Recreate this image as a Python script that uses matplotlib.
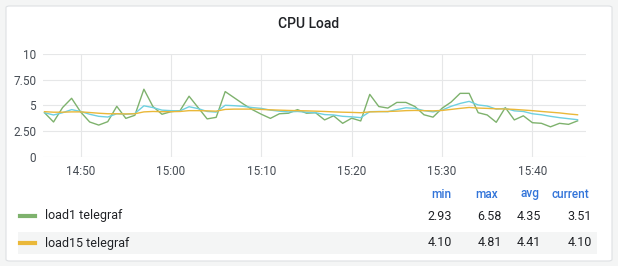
import numpy as np
import matplotlib
matplotlib.use("Agg")
import matplotlib.pyplot as plt
import matplotlib.dates as mdates
from matplotlib.patches import FancyBboxPatch, Rectangle
from matplotlib.lines import Line2D

plt.rcParams['font.family'] = ['Roboto', 'DejaVu Sans']

# one sample per minute, 14:46 .. 15:45
times = np.arange(np.datetime64('2024-01-01T14:46'), np.datetime64('2024-01-01T15:46'),
                  np.timedelta64(1, 'm'))

load1 = [4.30, 3.40, 4.80, 5.70, 4.37, 3.40, 3.10, 3.43, 4.92, 3.75,
         4.05, 6.58, 4.90, 4.15, 4.40, 4.50, 5.90, 4.80, 3.70, 3.85,
         6.35, 5.75, 5.15, 4.60, 4.15, 3.75, 4.20, 4.25, 4.60, 4.25,
         4.30, 3.60, 4.00, 3.27, 3.77, 3.50, 6.08, 4.90, 4.75, 5.30,
         5.30, 4.90, 4.10, 3.87, 4.73, 5.33, 6.18, 6.18, 4.30, 4.08,
         3.37, 4.80, 3.60, 4.00, 3.33, 3.27, 2.93, 3.27, 3.17, 3.51]

load5 = [4.30, 4.08, 4.30, 4.60, 4.42, 4.15, 3.95, 3.88, 4.20, 4.15,
         4.22, 4.97, 4.80, 4.55, 4.50, 4.48, 4.88, 4.70, 4.42, 4.36,
         5.02, 4.98, 4.92, 4.80, 4.72, 4.55, 4.45, 4.38, 4.42, 4.35,
         4.30, 4.12, 4.08, 3.95, 3.90, 3.82, 4.40, 4.42, 4.40, 4.60,
         4.78, 4.72, 4.50, 4.38, 4.55, 4.92, 5.20, 5.40, 5.05, 4.95,
         4.65, 4.72, 4.48, 4.42, 4.20, 4.10, 3.95, 3.82, 3.72, 3.62]

load15 = [4.40, 4.35, 4.35, 4.38, 4.38, 4.32, 4.25, 4.20, 4.20, 4.18,
          4.20, 4.38, 4.42, 4.40, 4.40, 4.42, 4.50, 4.50, 4.48, 4.45,
          4.62, 4.65, 4.65, 4.65, 4.62, 4.58, 4.55, 4.52, 4.50, 4.48,
          4.45, 4.42, 4.38, 4.35, 4.33, 4.30, 4.38, 4.40, 4.42, 4.45,
          4.50, 4.52, 4.50, 4.48, 4.52, 4.62, 4.72, 4.81, 4.75, 4.72,
          4.68, 4.66, 4.62, 4.56, 4.50, 4.42, 4.35, 4.28, 4.18, 4.10]

legend_names = ['load1 telegraf', 'load15 telegraf']
legend_colors = ['#7eb26d', '#eab839']
stat_headers = ['min', 'max', 'avg', 'current']
stat_values = [['2.93', '6.58', '4.35', '3.51'],
               ['4.10', '4.81', '4.41', '4.10']]
y_ticks = [0, 2.5, 5, 7.5, 10]
y_labels = ['0', '2.50', '5', '7.50', '10']

W, H = 618, 266
fig = plt.figure(figsize=(W / 100, H / 100), dpi=100)
fig.patch.set_facecolor('#f4f5f5')


def fx(x):
    return x / W


def fy(y):
    return 1 - y / H


# white panel card, kept behind the axes
card = FancyBboxPatch((fx(6), fy(261)), fx(606), 255 / H,
                      boxstyle="round,pad=0,rounding_size=0.006",
                      transform=fig.transFigure, facecolor='white',
                      edgecolor='#dde0e3', linewidth=0.8, zorder=-10)
fig.patches.append(card)

fig.text(fx(309), fy(24), 'CPU Load', ha='center', va='center',
         fontsize=10, fontweight='medium', color='#202226')

ax = fig.add_axes([fx(43), 109 / H, 543 / W, 103 / H])
ax.set_zorder(5)
ax.set_facecolor('none')
ax.plot(times, load1, color='#7eb26d', lw=1.0)
ax.plot(times, load5, color='#6ed0e0', lw=1.0)
ax.plot(times, load15, color='#eab839', lw=1.0)

ax.set_ylim(0, 10)
ax.set_yticks(y_ticks)
ax.set_yticklabels(y_labels)
ax.set_xlim(np.datetime64('2024-01-01T14:45:50'), np.datetime64('2024-01-01T15:45:56'))
ax.xaxis.set_major_locator(mdates.MinuteLocator(byminute=range(0, 60, 10)))
ax.xaxis.set_major_formatter(mdates.DateFormatter('%H:%M'))
ax.grid(True, color='#e6e7e8', lw=0.8)
ax.set_axisbelow(True)
for s in ax.spines.values():
    s.set_visible(False)
ax.tick_params(length=0, labelsize=8.5, labelcolor='#464c54', pad=6)
ax.tick_params(axis='y', pad=5)

# legend table
stat_x = [452, 502, 541, 592]
header_x = [441, 487, 530, 570]
for hx, h in zip(header_x, stat_headers):
    fig.text(fx(hx), fy(194), h, ha='center', va='center', fontsize=8.5,
             color='#3274d9', fontweight='medium')

row_y = [216, 243]
fig.patches.append(Rectangle((fx(18), fy(254)), fx(579), 22 / H,
                             transform=fig.transFigure, facecolor='#f4f5f5',
                             edgecolor='none', zorder=-5))
for ry, name, col, vals in zip(row_y, legend_names, legend_colors, stat_values):
    fig.lines.append(Line2D([fx(20), fx(35)], [fy(ry), fy(ry)], color=col, lw=3,
                            transform=fig.transFigure))
    fig.text(fx(45), fy(ry), name, ha='left', va='center', fontsize=9,
             color='#202226')
    for vx, v in zip(stat_x, vals):
        fig.text(fx(vx), fy(ry), v, ha='right', va='center', fontsize=9,
                 color='#202226')

fig.savefig('out.png', dpi=100, facecolor=fig.get_facecolor())
